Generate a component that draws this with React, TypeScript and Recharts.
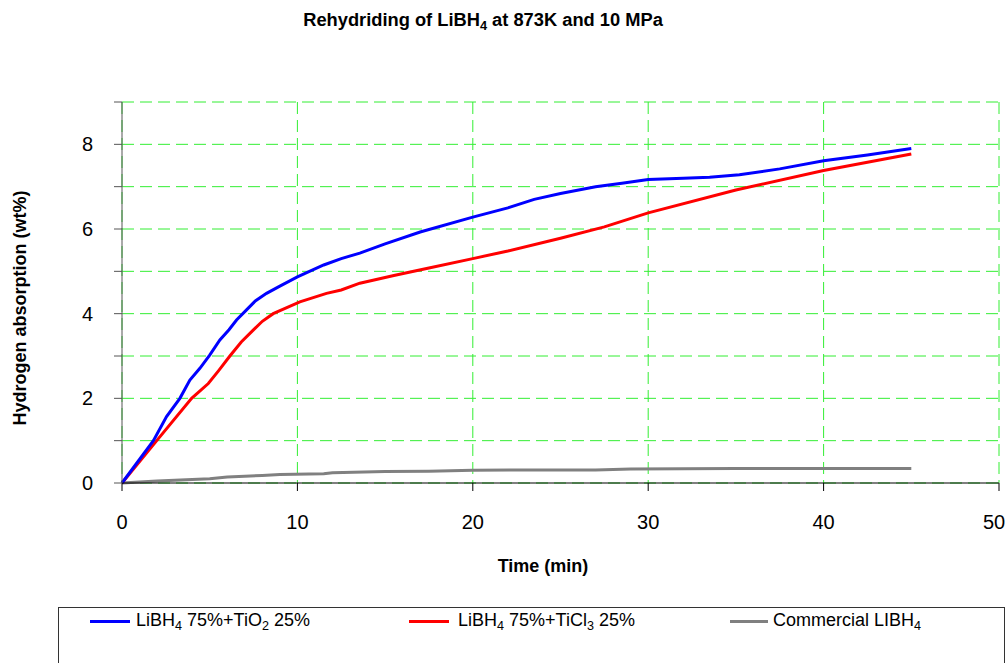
import React from 'react';
import { LineChart, Line, XAxis, YAxis, CartesianGrid, Label } from 'recharts';

// Time (min) and hydrogen absorption (wt%) per series
const tio2Time = [0, 1.79, 2.54, 3.3, 3.87, 4.44, 5.0, 5.58, 6.1, 6.53, 7.1, 7.6, 8.24, 9.0, 10, 11.5, 12.5, 13.56, 15, 17, 20, 22, 23.5, 25, 27, 28.5, 30, 32, 33.5, 35.2, 37.5, 40, 42.5, 45];
const tio2Values = [0, 1.0, 1.57, 2.0, 2.43, 2.71, 3.02, 3.38, 3.62, 3.85, 4.09, 4.3, 4.48, 4.65, 4.87, 5.15, 5.3, 5.43, 5.65, 5.93, 6.28, 6.5, 6.7, 6.84, 7.0, 7.08, 7.17, 7.2, 7.22, 7.28, 7.42, 7.61, 7.75, 7.9];

const ticl3Time = [0, 1.98, 3.97, 4.92, 5.5, 6.15, 6.8, 7.48, 8.0, 8.62, 10.14, 11.66, 12.5, 13.56, 15.5, 17.5, 20, 22, 25, 27.5, 30, 35, 40, 45];
const ticl3Values = [0, 1.0, 2.0, 2.35, 2.65, 3.0, 3.33, 3.61, 3.82, 4.0, 4.28, 4.48, 4.56, 4.72, 4.9, 5.08, 5.3, 5.48, 5.78, 6.05, 6.38, 6.92, 7.38, 7.77];

const commTime = [0, 2, 5, 6, 7, 8, 9, 11.5, 12, 15, 17.5, 20, 24, 27, 29, 35, 45];
const commValues = [0, 0.05, 0.1, 0.14, 0.16, 0.18, 0.2, 0.22, 0.24, 0.27, 0.28, 0.3, 0.31, 0.31, 0.33, 0.34, 0.34];

const xTicks = [0, 10, 20, 30, 40, 50];
const yTicks = [0, 1, 2, 3, 4, 5, 6, 7, 8, 9];
const yLabelTicks = [0, 2, 4, 6, 8];

const toPoints = (t: number[], v: number[]) => t.map((x, i) => ({ t: x, v: v[i] }));
const tio2Data = toPoints(tio2Time, tio2Values);
const ticl3Data = toPoints(ticl3Time, ticl3Values);
const commData = toPoints(commTime, commValues);

const FONT = '"Liberation Sans", Arial, Helvetica, sans-serif';

const Sub = ({ children }: { children: React.ReactNode }) => (
  <span style={{ fontSize: '0.7em', position: 'relative', top: '0.3em' }}>{children}</span>
);

const YTick = (props: any) => {
  const { x, y, payload } = props;
  if (!yLabelTicks.includes(payload.value)) return null;
  return (
    <text x={x} y={y} textAnchor="end" dominantBaseline="central" fontSize={20} fill="#000" fontFamily={FONT}>
      {payload.value}
    </text>
  );
};

const XTick = (props: any) => {
  const { x, y, payload } = props;
  const shift = payload.value === xTicks[xTicks.length - 1] ? -5 : 0;
  return (
    <text x={x + shift} y={y} dy="0.71em" textAnchor="middle" fontSize={20} fill="#000" fontFamily={FONT}>
      {payload.value}
    </text>
  );
};

export default function App() {
  return (
    <div style={{ position: 'absolute', left: 0, top: 0, width: 1008, height: 663, fontFamily: FONT, overflow: 'hidden', background: '#fff' }}>
      <div style={{ position: 'absolute', left: 0, top: 10, width: 966, textAlign: 'center', fontWeight: 'bold', fontSize: 18.3, lineHeight: '20px', color: '#000' }}>
        Rehydriding of LiBH<Sub>4</Sub> at 873K and 10 MPa
      </div>
      <LineChart width={1008} height={663} margin={{ top: 102, right: 9, bottom: 140, left: 62 }}>
        <CartesianGrid stroke="#33ee33" strokeDasharray="12 6" strokeWidth={1} />
        <XAxis
          dataKey="t"
          type="number"
          domain={[0, 50]}
          ticks={xTicks}
          height={40}
          tickSize={8}
          tickMargin={24}
          stroke="#000"
          tick={<XTick />}
          allowDuplicatedCategory={false}
        >
          <Label
            content={() => (
              <text x={543} y={566} textAnchor="middle" dominantBaseline="central" fontSize={18} fontWeight="bold" fontFamily={FONT} fill="#000">
                Time (min)
              </text>
            )}
          />
        </XAxis>
        <YAxis
          dataKey="v"
          type="number"
          domain={[0, 9]}
          ticks={yTicks}
          width={60}
          tickSize={8}
          tickMargin={21}
          stroke="#555"
          tick={<YTick />}
          interval={0}
        >
          <Label
            content={() => (
              <text x={20} y={308} transform="rotate(-90 20 308)" textAnchor="middle" dominantBaseline="central" fontSize={18} fontWeight="bold" fontFamily={FONT} fill="#000">
                Hydrogen absorption (wt%)
              </text>
            )}
          />
        </YAxis>
        <Line data={commData} dataKey="v" type="linear" stroke="#808080" strokeWidth={3} dot={false} isAnimationActive={false} />
        <Line data={ticl3Data} dataKey="v" type="linear" stroke="#ff0000" strokeWidth={3} dot={false} isAnimationActive={false} />
        <Line data={tio2Data} dataKey="v" type="linear" stroke="#0000ff" strokeWidth={3} dot={false} isAnimationActive={false} />
      </LineChart>
      <div style={{ position: 'absolute', left: 58, top: 607, width: 947, height: 80, border: '1px solid #333', boxSizing: 'border-box' }} />
      {[
        { x: 90, w: 40, tx: 136, color: '#0000ff', label: <>LiBH<Sub>4</Sub> 75%+TiO<Sub>2</Sub> 25%</> },
        { x: 409, w: 40, tx: 458, color: '#ff0000', label: <>LiBH<Sub>4</Sub> 75%+TiCl<Sub>3</Sub> 25%</> },
        { x: 730, w: 38, tx: 773, color: '#808080', label: <>Commercial LIBH<Sub>4</Sub></> },
      ].map((it, i) => (
        <React.Fragment key={i}>
          <div style={{ position: 'absolute', left: it.x, top: 620, width: it.w, height: 3, background: it.color }} />
          <div style={{ position: 'absolute', left: it.tx, top: 611, fontSize: 18, lineHeight: '18px', whiteSpace: 'nowrap', color: '#000' }}>
            {it.label}
          </div>
        </React.Fragment>
      ))}
    </div>
  );
}
